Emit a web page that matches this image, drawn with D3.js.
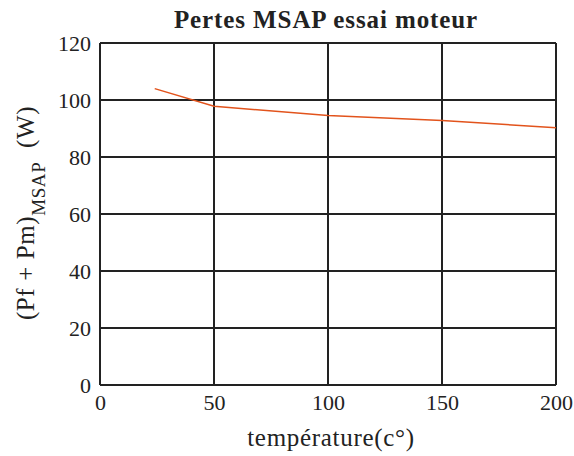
<!DOCTYPE html>
<html>
<head>
<meta charset="utf-8">
<script src="https://cdn.jsdelivr.net/npm/d3@7"></script>
<style>
  html, body { margin: 0; padding: 0; background: #fff; }
  svg { display: block; }
  text { font-family: serif; fill: #222; }
</style>
</head>
<body>
<svg id="chart" width="574" height="456"></svg>
<script>
// Loss measurements vs temperature
const temperature = [24, 50, 100, 150, 200];
const losses = [104, 97.8, 94.6, 92.8, 90.3];
const xTicks = [0, 50, 100, 150, 200];
const yTicks = [0, 20, 40, 60, 80, 100, 120];

const svg = d3.select("#chart");
const margin = { left: 100, top: 43, right: 18, bottom: 71 };
const W = 574, H = 456;
const iw = W - margin.left - margin.right;
const ih = H - margin.top - margin.bottom;
const serif = "serif";

const x = d3.scaleLinear().domain([0, 200]).range([0, iw]);
const y = d3.scaleLinear().domain([0, 120]).range([ih, 0]);

const g = svg.append("g").attr("transform", `translate(${margin.left},${margin.top})`);

// grid lines
const gridColor = "#222";
g.append("g").selectAll("line").data(xTicks).join("line")
  .attr("x1", d => x(d)).attr("x2", d => x(d))
  .attr("y1", 0).attr("y2", ih)
  .attr("stroke", gridColor).attr("stroke-width", 2);
g.append("g").selectAll("line").data(yTicks).join("line")
  .attr("x1", 0).attr("x2", iw)
  .attr("y1", d => y(d)).attr("y2", d => y(d))
  .attr("stroke", gridColor).attr("stroke-width", 2);

// tick labels
const xAxis = d3.axisBottom(x).tickValues(xTicks).tickSize(0).tickPadding(9);
const xg = g.append("g").attr("transform", `translate(0,${ih})`).call(xAxis)
  .attr("font-family", serif);
xg.select(".domain").remove();
xg.selectAll("text").attr("font-size", 22).attr("fill", "#222")
  .style("font-family", serif);

const yAxis = d3.axisLeft(y).tickValues(yTicks).tickSize(0).tickPadding(9);
const yg = g.append("g").call(yAxis).attr("font-family", serif);
yg.select(".domain").remove();
yg.selectAll("text").attr("font-size", 22).attr("fill", "#222")
  .style("font-family", serif);

// data line
const line = d3.line().x((d, i) => x(temperature[i])).y(d => y(d));
g.append("path").datum(losses)
  .attr("d", line)
  .attr("fill", "none")
  .attr("stroke", "#e2531c")
  .attr("stroke-width", 1.5);

// title
svg.append("text")
  .attr("x", 326).attr("y", 28)
  .attr("text-anchor", "middle")
  .attr("font-size", 25).attr("font-weight", "bold")
  .attr("letter-spacing", 0.9)
  .text("Pertes MSAP essai moteur");

// x label
svg.append("text")
  .attr("x", 331).attr("y", 446)
  .attr("text-anchor", "middle")
  .attr("font-size", 25)
  .attr("letter-spacing", 0.7)
  .text("température(c°)");

// y label with subscript
const yl = svg.append("text")
  .attr("transform", `translate(34,213) rotate(-90)`)
  .attr("text-anchor", "middle")
  .attr("font-size", 25)
  .attr("letter-spacing", 0.6);
yl.append("tspan").text("(Pf + Pm)");
yl.append("tspan").attr("dy", 11).attr("font-size", 19).text("MSAP");
yl.append("tspan").attr("dy", -11).text("\u00a0\u00a0(W)");
</script>
</body>
</html>
